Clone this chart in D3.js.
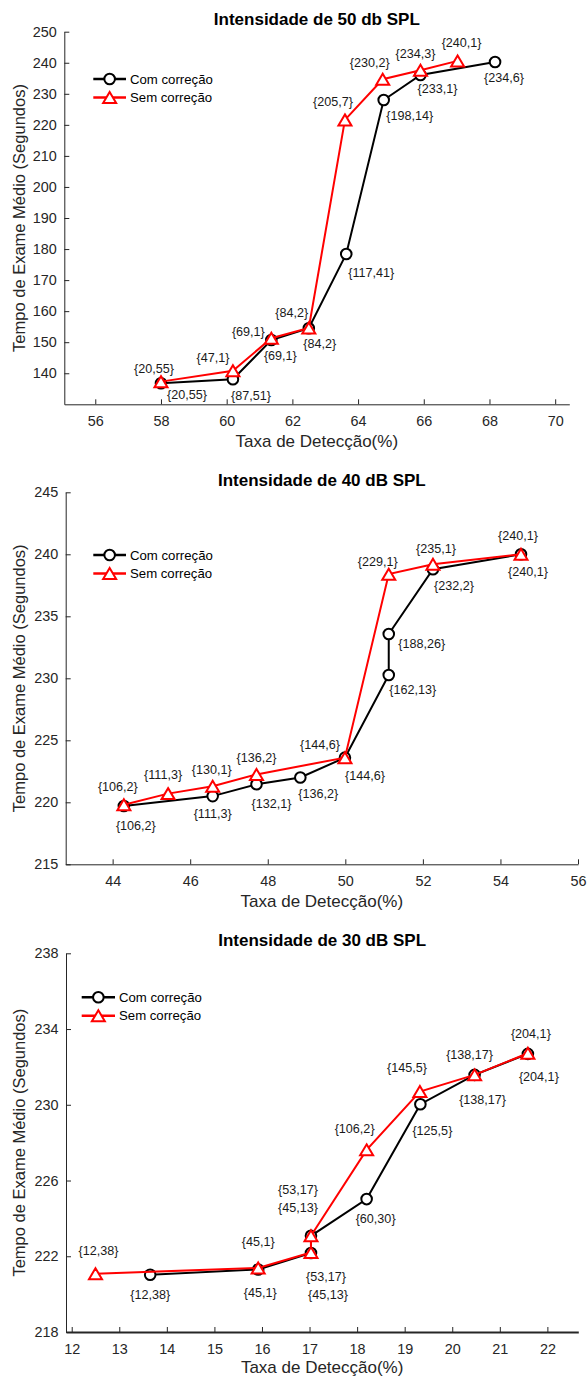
<!DOCTYPE html>
<html>
  <head>
    <meta charset="utf-8">
    <title>Tempo de exame vs taxa de detecção</title>
    <script src="https://cdn.jsdelivr.net/npm/d3@7"></script>
    <style>
      body { margin: 0; background: #fff; }
      svg { display: block; font-family: "Liberation Sans", Arial, sans-serif; }
      .tick text { fill: #262626; font-size: 14.4px; }
      .domain, .tick line { stroke: #262626; }
      .lbl { font-size: 12.6px; fill: #1a1a1a; text-anchor: middle; }
    </style>
  </head>
  <body>
    <svg id="chart" width="587" height="1377"></svg>

    <script>
      // 50 db
      p50ComX = [58.0, 60.19, 61.36, 62.5, 63.64, 64.78, 65.9, 68.17];
      p50ComY = [136.8, 138.05, 150.7, 154.5, 178.4, 228.0, 236.05, 240.25];
      p50ComLab = ["{20,55}", "{87,51}", "{69,1}", "{84,2}", "{117,41}", "{198,14}", "{233,1}", "{234,6}"];
      p50SemX = [58.0, 60.19, 61.36, 62.5, 63.6, 64.75, 65.9, 67.03];
      p50SemY = [137.3, 140.8, 151.3, 154.6, 221.6, 234.7, 237.6, 240.6];
      p50SemLab = ["{20,55}", "{47,1}", "{69,1}", "{84,2}", "{205,7}", "{230,2}", "{234,3}", "{240,1}"];
      p50XTicks = [56, 58, 60, 62, 64, 66, 68, 70];
      p50YTicks = [140, 150, 160, 170, 180, 190, 200, 210, 220, 230, 240, 250];

      // 40 dB
      p40ComX = [44.29, 46.58, 47.71, 48.84, 49.99, 51.12, 51.12, 52.26, 54.53];
      p40ComY = [219.7, 220.5, 221.45, 222.0, 223.6, 230.27, 233.57, 238.8, 240.0];
      p40ComLab = ["{106,2}", "{111,3}", "{132,1}", "{136,2}", "{144,6}", "{162,13}", "{188,26}", "{232,2}", "{240,1}"];
      p40SemX = [44.29, 45.43, 46.58, 47.71, 49.99, 51.12, 52.26, 54.53];
      p40SemY = [219.8, 220.7, 221.3, 222.25, 223.6, 238.4, 239.2, 240.0];
      p40SemLab = ["{106,2}", "{111,3}", "{130,1}", "{136,2}", "{144,6}", "{229,1}", "{235,1}", "{240,1}"];
      p40XTicks = [44, 46, 48, 50, 52, 54, 56];
      p40YTicks = [215, 220, 225, 230, 235, 240, 245];

      // 30 dB
      p30ComX = [13.65, 15.92, 17.03, 17.03, 18.2, 19.33, 20.47, 21.59];
      p30ComY = [221.02, 221.3, 222.17, 223.08, 225.02, 230.03, 231.58, 232.69];
      p30ComLab = ["{12,38}", "{45,1}", "{45,13}", "{53,17}", "{60,30}", "{125,5}", "{138,17}", "{204,1}"];
      p30SemX = [12.5, 15.92, 17.03, 17.03, 18.2, 19.32, 20.47, 21.59];
      p30SemY = [221.08, 221.38, 222.2, 223.08, 227.62, 230.7, 231.58, 232.72];
      p30SemLab = ["{12,38}", "{45,1}", "{45,13}", "{53,17}", "{106,2}", "{145,5}", "{138,17}", "{204,1}"];
      p30XTicks = [12, 13, 14, 15, 16, 17, 18, 19, 20, 21, 22];
      p30YTicks = [218, 222, 226, 230, 234, 238];

      // label offsets (px from the marker)
      p50ComOff = [[26, 11], [18, 16], [9, 16], [11, 15], [25, 19], [26, 16], [17, 14], [9, 16]];
      p50SemOff = [[-7, -13], [-20, -13], [-23, -7], [-17, -15], [-12, -18], [-13, -17], [-5, -17], [4, -18]];
      p40ComOff = [[12, 20], [0, 17], [15, 19], [18, 16], [20, 18], [24, 15], [33, 10], [21, 16], [7, 17]];
      p40SemOff = [[-6, -18], [-5, -19], [-1, -17], [0, -17], [-25, -13], [-11, -13], [3, -16], [-3, -19]];
      p30ComOff = [[0, 20], [2, 23], [17, 42], [15, 41], [9, 20], [12, 26], [8, 25], [11, 23]];
      p30SemOff = [[3, -23], [0, -26], [-13, -45], [-13, -46], [-12, -21], [-13, -24], [-5, -20], [3, -20]];

      svg = d3.select("#chart");
      svg.append("rect").attr("width", 587).attr("height", 1377).attr("fill", "#fff");

      triPath = "M0,-5.5L6.5,5.5L-6.5,5.5Z";

      panels = [
        {
          title: "Intensidade de 50 db SPL", titleY: 24.5, xLabelY: 447,
          left: 64.3, right: 569.3, top: 31.7, bottom: 404.3,
          xDomain: [55.057, 70.43], yDomain: [130, 250],
          xTicks: p50XTicks, yTicks: p50YTicks,
          com: [p50ComX, p50ComY, p50ComLab, p50ComOff],
          sem: [p50SemX, p50SemY, p50SemLab, p50SemOff],
          legend: [93.3, 126, 79], bottomColor: "#262626"
        },
        {
          title: "Intensidade de 40 dB SPL", titleY: 486, xLabelY: 907,
          left: 65.7, right: 578, top: 492.3, bottom: 864.3,
          xDomain: [42.79, 56], yDomain: [215, 245],
          xTicks: p40XTicks, yTicks: p40YTicks,
          com: [p40ComX, p40ComY, p40ComLab, p40ComOff],
          sem: [p40SemX, p40SemY, p40SemLab, p40SemOff],
          legend: [93.3, 126, 555], bottomColor: "#262626"
        },
        {
          title: "Intensidade de 30 dB SPL", titleY: 946, xLabelY: 1372.5,
          left: 66, right: 578.3, top: 953.3, bottom: 1332,
          xDomain: [11.88, 22.65], yDomain: [218, 238],
          xTicks: p30XTicks, yTicks: p30YTicks,
          com: [p30ComX, p30ComY, p30ComLab, p30ComOff],
          sem: [p30SemX, p30SemY, p30SemLab, p30SemOff],
          legend: [81.7, 115, 997.3], bottomColor: "#b4b4b4"
        }
      ];

      panels.forEach(drawPanel);

      function drawPanel(p) {
        x = d3.scaleLinear().domain(p.xDomain).range([p.left, p.right]);
        y = d3.scaleLinear().domain(p.yDomain).range([p.bottom, p.top]);
        g = svg.append("g");

        // axes, ticks inside
        xAxis = g.append("g")
          .attr("transform", "translate(0," + p.bottom + ")")
          .call(d3.axisBottom(x).tickValues(p.xTicks).tickSizeInner(-5).tickSizeOuter(0).tickPadding(11.5));
        xAxis.select(".domain").attr("stroke", p.bottomColor).attr("stroke-width", p.bottomColor == "#262626" ? 1 : 2);
        g.append("g")
          .attr("transform", "translate(" + p.left + ",0)")
          .call(d3.axisLeft(y).tickValues(p.yTicks).tickSizeInner(-5).tickSizeOuter(0).tickPadding(7.5));

        // titles
        g.append("text")
          .attr("x", (p.left + p.right) / 2)
          .attr("y", p.titleY)
          .attr("text-anchor", "middle")
          .attr("font-weight", "bold")
          .attr("font-size", "17px")
          .attr("fill", "#000")
          .text(p.title);
        g.append("text")
          .attr("x", (p.left + p.right) / 2)
          .attr("y", p.xLabelY)
          .attr("text-anchor", "middle")
          .attr("font-size", "17px")
          .attr("fill", "#262626")
          .text("Taxa de Detecção(%)");
        g.append("text")
          .attr("transform", "translate(25," + ((p.top + p.bottom) / 2) + ") rotate(-90)")
          .attr("text-anchor", "middle")
          .attr("font-size", "16.5px")
          .attr("fill", "#262626")
          .text("Tempo de Exame Médio (Segundos)");

        line = d3.line().x(function(d) { return x(d[0]); }).y(function(d) { return y(d[1]); });

        [["com", "#000"], ["sem", "#ff0000"]].forEach(function(s) {
          arr = p[s[0]];
          pts = arr[0].map(function(v, i) { return [v, arr[1][i], arr[2][i], arr[3][i]]; });
          g.append("path")
            .datum(pts)
            .attr("d", line)
            .attr("fill", "none")
            .attr("stroke", s[1])
            .attr("stroke-width", 2);
          marks = g.selectAll(".m" + s[0])
            .data(pts)
          .enter().append("g")
            .attr("transform", function(d) { return "translate(" + x(d[0]) + "," + y(d[1]) + ")"; });
          if (s[0] == "com") {
            marks.append("circle").attr("r", 5.3);
          } else {
            marks.append("path").attr("d", triPath);
          }
          marks.selectAll("circle, path")
            .attr("fill", "#fff")
            .attr("stroke", s[1])
            .attr("stroke-width", 2);
          g.selectAll(".t" + s[0])
            .data(pts)
          .enter().append("text")
            .attr("class", "lbl")
            .attr("x", function(d) { return x(d[0]) + d[3][0]; })
            .attr("y", function(d) { return y(d[1]) + d[3][1]; })
            .attr("dy", "0.35em")
            .text(function(d) { return d[2]; });
        });

        // legend
        lg = g.append("g");
        [["Com correção", "#000", "c"], ["Sem correção", "#ff0000", "t"]].forEach(function(it, i) {
          ly = p.legend[2] + i * 18.5;
          lg.append("line")
            .attr("x1", p.legend[0]).attr("x2", p.legend[1])
            .attr("y1", ly).attr("y2", ly)
            .attr("stroke", it[1]).attr("stroke-width", 2.5);
          mx = (p.legend[0] + p.legend[1]) / 2;
          if (it[2] == "c") {
            lg.append("circle").attr("cx", mx).attr("cy", ly).attr("r", 5.3);
          } else {
            lg.append("path").attr("d", triPath).attr("transform", "translate(" + mx + "," + ly + ")");
          }
          lg.selectAll("circle, path").attr("fill", "#fff").attr("stroke-width", 2);
          lg.selectAll("circle").attr("stroke", "#000");
          lg.selectAll("path").attr("stroke", "#ff0000");
          lg.append("text")
            .attr("x", p.legend[1] + 4)
            .attr("y", ly)
            .attr("dy", "0.35em")
            .attr("font-size", "13.2px")
            .attr("fill", "#000")
            .text(it[0]);
        });
      }
    </script>
  </body>
</html>
